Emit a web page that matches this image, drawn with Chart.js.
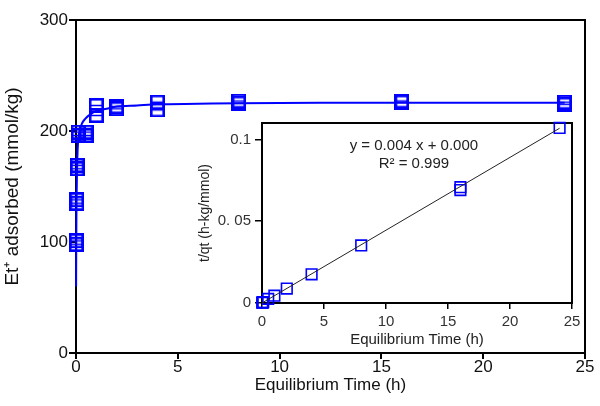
<!DOCTYPE html>
<html>
<head>
<meta charset="utf-8">
<script src="https://cdn.jsdelivr.net/npm/chart.js@4.4.0/dist/chart.umd.min.js"></script>
<style>
    html, body { margin: 0; padding: 0; background: #fff; }
    #wrap { position: relative; width: 600px; height: 406px; }
    #mainChart { position: absolute; left: 0; top: 0; }
    #insetChart { position: absolute; left: 190px; top: 110px; }
</style>
</head>
<body>
<div id="wrap">
    <canvas id="mainChart" width="600" height="406"></canvas>
    <canvas id="insetChart" width="395" height="245"></canvas>
</div>
<script>
// measured uptake (duplicates), time in h, q in mmol/kg
const mainTime = [0.02, 0.02, 0.04, 0.04, 0.06, 0.06, 0.1, 0.1, 0.5, 0.5, 1, 1, 2, 2, 4, 4, 8, 8, 16, 16, 24, 24];
const mainQ = [98, 101, 135, 138, 166, 169, 196, 199, 196, 199, 214, 223, 220, 222, 219, 226, 225, 227, 226, 227, 224, 226];

// fitted kinetic curve
const curveTime = [0.005, 0.01, 0.02, 0.03, 0.05, 0.08, 0.12, 0.2, 0.3, 0.45, 0.7, 1, 1.5, 2, 3, 4, 6, 8, 12, 16, 20, 24];
const curveQ = [60, 88, 122, 142, 165, 183, 194, 202, 207, 211, 215, 218, 220, 222, 223, 224, 224.5, 225, 225.5, 225.5, 225.5, 225.5];

// inset: linearised plot t/qt vs t
const insetTime = [0.02, 0.04, 0.06, 0.1, 0.5, 1, 2, 4, 8, 16, 16, 24];
const insetRatio = [0.0002, 0.0003, 0.0004, 0.0005, 0.0025, 0.0045, 0.0088, 0.0175, 0.0352, 0.069, 0.0708, 0.107];
const fitTime = [0, 24];
const fitRatio = [0, 0.1068];

const mainXTicks = [0, 5, 10, 15, 20, 25];
const mainYTicks = [0, 100, 200, 300];
const insetXTicks = [0, 5, 10, 15, 20, 25];
const insetYTicks = [0, 0.05, 0.1];
const insetYTickLabels = ['0', '0. 05', '0.1'];

const BLUE = '#0000ff';
const FONT = "'Liberation Sans', Arial, sans-serif";

// square marker with a bar through the middle, like the original plot symbol
function boxMarker(size, lw) {
    const c = document.createElement('canvas');
    c.width = size; c.height = size;
    const g = c.getContext('2d');
    g.strokeStyle = BLUE;
    g.lineWidth = lw;
    g.strokeRect(lw / 2, lw / 2, size - lw, size - lw);
    g.beginPath();
    g.moveTo(0, size / 2);
    g.lineTo(size, size / 2);
    g.lineWidth = 1.5;
    g.stroke();
    return c;
}

const frameBox = {
    id: 'frameBox',
    beforeDatasetsDraw(chart, args, opts) {
        const { ctx, chartArea: a } = chart;
        ctx.save();
        ctx.strokeStyle = '#000';
        ctx.lineWidth = opts.width || 2;
        ctx.strokeRect(a.left, a.top, a.right - a.left, a.bottom - a.top);
        ctx.restore();
    }
};

const equationText = {
    id: 'equationText',
    afterDatasetsDraw(chart) {
        const { ctx, chartArea: a } = chart;
        const cx = a.left + (a.right - a.left) * 0.49;
        ctx.save();
        ctx.fillStyle = '#222';
        ctx.font = '15px ' + FONT;
        ctx.textAlign = 'center';
        ctx.textBaseline = 'middle';
        ctx.fillText('y = 0.004 x + 0.000', cx, a.top + 23);
        ctx.fillText('R\u00b2 = 0.999', cx, a.top + 41);
        ctx.restore();
    }
};

function fixedTicks(list) {
    return scale => { scale.ticks = list.map(v => ({ value: v })); };
}

function tickGrid(len, width) {
    return {
        display: true,
        drawOnChartArea: false,
        drawTicks: true,
        color: '#000',
        lineWidth: width,
        tickColor: '#000',
        tickWidth: width,
        tickLength: len
    };
}

new Chart(document.getElementById('mainChart'), {
    type: 'scatter',
    data: {
        datasets: [
            {
                label: 'fit',
                data: curveTime.map((t, i) => ({ x: t, y: curveQ[i] })),
                showLine: true,
                borderColor: BLUE,
                borderWidth: 2,
                pointRadius: 0,
                cubicInterpolationMode: 'monotone',
                clip: false
            },
            {
                label: 'measured',
                data: mainTime.map((t, i) => ({ x: t, y: mainQ[i] })),
                showLine: false,
                pointStyle: boxMarker(15, 2.6),
                clip: false
            }
        ]
    },
    options: {
        responsive: false,
        animation: false,
        layout: { padding: { left: 0, top: 20, right: 15, bottom: 0 } },
        plugins: { legend: { display: false }, tooltip: { enabled: false }, frameBox: { width: 2 } },
        scales: {
            x: {
                type: 'linear',
                min: 0, max: 25,
                afterBuildTicks: fixedTicks(mainXTicks),
                afterFit: s => { s.height = 53; },
                grid: tickGrid(6, 2),
                border: { display: true, color: '#000', width: 2 },
                ticks: { color: '#111', padding: -2, font: { family: FONT, size: 17 } },
                title: {
                    display: true, text: 'Equilibrium Time (h)', color: '#111',
                    font: { family: FONT, size: 17 }, padding: { top: 0, bottom: 10 }
                }
            },
            y: {
                type: 'linear',
                min: 0, max: 300,
                afterBuildTicks: fixedTicks(mainYTicks),
                afterFit: s => { s.width = 76; },
                grid: tickGrid(7, 2),
                border: { display: true, color: '#000', width: 2 },
                ticks: { color: '#111', padding: 1, font: { family: FONT, size: 17 } },
                title: {
                    display: true, text: 'Et\u207a adsorbed (mmol/kg)', color: '#111',
                    font: { family: FONT, size: 19 }, padding: { top: 1, bottom: 0 }
                }
            }
        }
    },
    plugins: [frameBox]
});

new Chart(document.getElementById('insetChart'), {
    type: 'scatter',
    data: {
        datasets: [
            {
                label: 'linear fit',
                data: fitTime.map((t, i) => ({ x: t, y: fitRatio[i] })),
                showLine: true,
                borderColor: '#222',
                borderWidth: 1,
                pointRadius: 0,
                clip: false
            },
            {
                label: 't/qt',
                data: insetTime.map((t, i) => ({ x: t, y: insetRatio[i] })),
                showLine: false,
                pointStyle: 'rect',
                pointRadius: 7.5,
                pointBorderColor: BLUE,
                pointBackgroundColor: 'rgba(0,0,0,0)',
                pointBorderWidth: 1.6,
                clip: false
            }
        ]
    },
    options: {
        responsive: false,
        animation: false,
        layout: { padding: { left: 0, top: 9, right: 13, bottom: 0 } },
        plugins: { legend: { display: false }, tooltip: { enabled: false }, frameBox: { width: 2 } },
        scales: {
            x: {
                type: 'linear',
                min: 0, max: 25,
                afterBuildTicks: fixedTicks(insetXTicks),
                afterFit: s => { s.height = 52; },
                grid: tickGrid(6, 1.5),
                border: { display: true, color: '#000', width: 2 },
                ticks: { color: '#333', padding: 4, font: { family: FONT, size: 15 } },
                title: {
                    display: true, text: 'Equilibrium Time (h)', color: '#222',
                    font: { family: FONT, size: 15 }, padding: { top: 0, bottom: 6 }
                }
            },
            y: {
                type: 'linear',
                min: 0, max: 0.11,
                afterBuildTicks: fixedTicks(insetYTicks),
                afterFit: s => { s.width = 72; },
                grid: tickGrid(7, 1.5),
                border: { display: true, color: '#000', width: 2 },
                ticks: {
                    color: '#333', padding: 4, font: { family: FONT, size: 15 },
                    callback: (v, i) => insetYTickLabels[i]
                },
                title: {
                    display: true, text: 't/qt (h-kg/mmol)', color: '#222',
                    font: { family: FONT, size: 14 }, padding: { top: 7, bottom: 0 }
                }
            }
        }
    },
    plugins: [frameBox, equationText]
});
</script>
</body>
</html>
